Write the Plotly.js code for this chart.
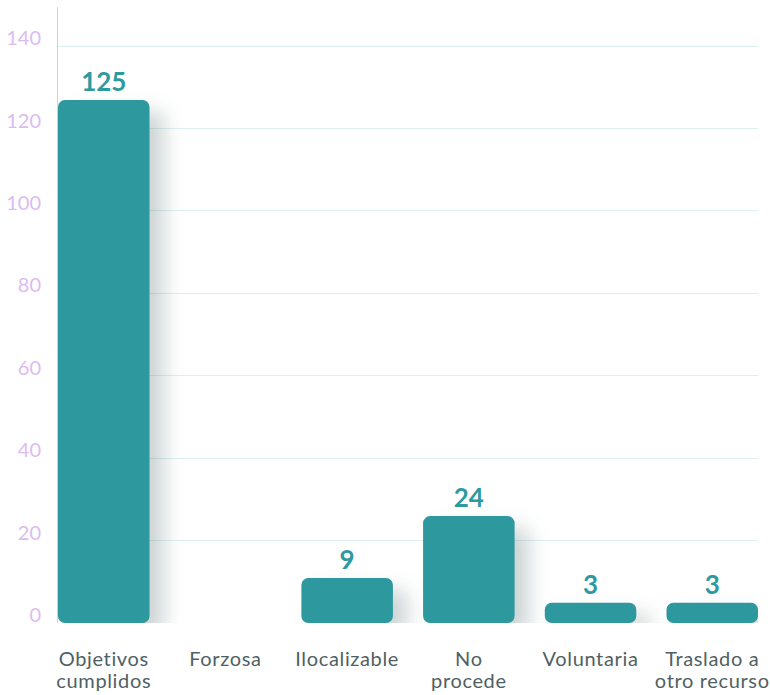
<!DOCTYPE html>
<html>
<head>
<meta charset="utf-8">
<script src="https://cdn.plot.ly/plotly-3.0.1.min.js"></script>
<style>
  html, body { margin: 0; padding: 0; background: #fff; }
  #chart { width: 770px; height: 695px; }
  .barlayer .point path { filter: drop-shadow(14px 12px 10px rgba(40, 70, 70, 0.24)); }
  .xtick text { letter-spacing: 0.65px; }
</style>
</head>
<body>
<div id="chart"></div>
<script>
const categories = ['Objetivos<br>cumplidos', 'Forzosa', 'Ilocalizable', 'No<br>procede', 'Voluntaria', 'Traslado a<br>otro recurso'];
const values = [125, 0, 9, 24, 3, 3];
const yTickVals = [0, 20, 40, 60, 80, 100, 120, 140];
const yTickText = ['0', '20', '40', '60', '80', '100', '120', '140'];

// axis ranges (layout): bars start slightly below the value-zero, at the bottom of the plot
const Y_RANGE = [-1.94, 147.56];
const GRID_RANGE = [0, 149.5];
const FOOT = Y_RANGE[0];

const trace = {
  type: 'bar',
  x: categories,
  y: values.map(v => v > 0 ? v - FOOT : 0),
  base: values.map(v => v > 0 ? FOOT : 0),
  text: values.map(v => v > 0 ? String(v) : ''),
  textposition: 'outside',
  cliponaxis: false,
  textfont: { family: 'Lato, sans-serif', size: 26, color: '#2e9aa0', weight: 'bold' },
  marker: { color: '#2e989f', cornerradius: 7, line: { width: 0 } },
  hoverinfo: 'skip',
  yaxis: 'y'
};

// invisible helper trace to anchor the grid axis
const gridTrace = {
  type: 'scatter', x: [categories[0]], y: [0], yaxis: 'y2',
  mode: 'markers', marker: { opacity: 0 }, hoverinfo: 'skip', showlegend: false
};

const layout = {
  width: 770, height: 695,
  margin: { l: 58, r: 12, t: 7, b: 72 },
  paper_bgcolor: '#ffffff', plot_bgcolor: 'rgba(0,0,0,0)',
  showlegend: false,
  bargap: 0.248,
  font: { family: 'Lato, sans-serif' },
  xaxis: {
    type: 'category',
    range: [-0.376, 5.376],
    showgrid: false, zeroline: false, showline: false,
    ticks: '',
    tickfont: { family: 'Lato, sans-serif', size: 20, color: '#4f6163' },
    ticklabelstandoff: 22
  },
  yaxis: {
    range: Y_RANGE,
    tickvals: yTickVals, ticktext: yTickText,
    showgrid: false, zeroline: false,
    showline: true, linecolor: '#d8c8ee', linewidth: 1,
    ticks: '',
    tickfont: { family: 'Lato, sans-serif', size: 20, color: '#dcbcf0' },
    ticklabelstandoff: 12
  },
  yaxis2: {
    overlaying: 'y', range: GRID_RANGE,
    tickvals: yTickVals,
    showticklabels: false, showgrid: true, gridcolor: '#ddeff0', gridwidth: 1,
    zeroline: false, showline: false, ticks: ''
  }
};

Plotly.newPlot('chart', [gridTrace, trace], layout, { displayModeBar: false, staticPlot: true }).then(() => {
  // tighter line spacing for two-line category labels
  document.querySelectorAll('.xtick text tspan.line').forEach(t => {
    const dy = parseFloat(t.getAttribute('dy') || '0');
    if (dy > 0) t.setAttribute('dy', '1.1em');
  });
});
</script>
</body>
</html>
